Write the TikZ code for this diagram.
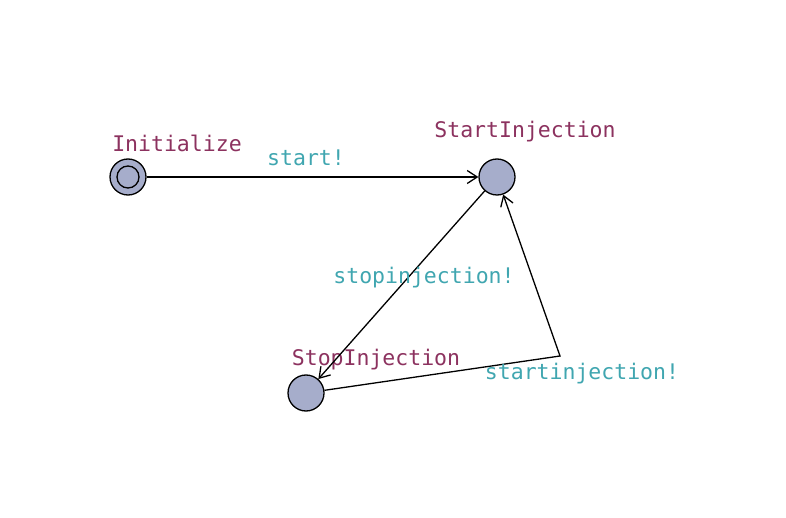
\documentclass[tikz,border=0pt]{standalone}
\usepackage{fontspec}
\setmonofont{DejaVu Sans Mono}
\usetikzlibrary{arrows.meta}
\definecolor{locfill}{RGB}{166,173,203}
\definecolor{locname}{RGB}{140,50,95}
\definecolor{synccol}{RGB}{64,166,176}
\tikzset{
  loc/.style={circle,draw=black,line width=1.3pt,fill=locfill,minimum size=36pt,inner sep=0pt},
  lname/.style={text=locname,font=\ttfamily\fontsize{21.5}{21.5}\selectfont,inner sep=0pt},
  sync/.style={text=synccol,font=\ttfamily\fontsize{21.5}{21.5}\selectfont,inner sep=0pt},
  edge/.style={draw=black,line width=1.3pt,-{Straight Barb[length=10pt,width=13pt,line width=1.3pt]}}
}
\begin{document}
\begin{tikzpicture}[x=1pt,y=-1pt]
\useasboundingbox (0,0) rectangle (786,518);
\node[loc] (init) at (128,177) {};
\draw[line width=1.3pt] (init.center) circle (11);
\node[loc] (start) at (497,177) {};
\node[loc] (stop) at (306,393) {};
\coordinate (bend) at (560,356);
\node[lname] (ninit) at (177,143) {Initialize};
\node[lname] (nstart) at (525,131.5) {StartInjection};
\node[lname] (nstop) at (376,359.5) {StopInjection};
\draw[edge] (init) -- (start);
\draw[edge] (start) -- (stop);
\draw[edge] (stop) -- (bend) -- (start);
\node[sync] (s1) at (306,157.5) {start!};
\node[sync] (s2) at (424,277.5) {stopinjection!};
\node[sync] (s3) at (582,373.5) {startinjection!};
\end{tikzpicture}
\end{document}
